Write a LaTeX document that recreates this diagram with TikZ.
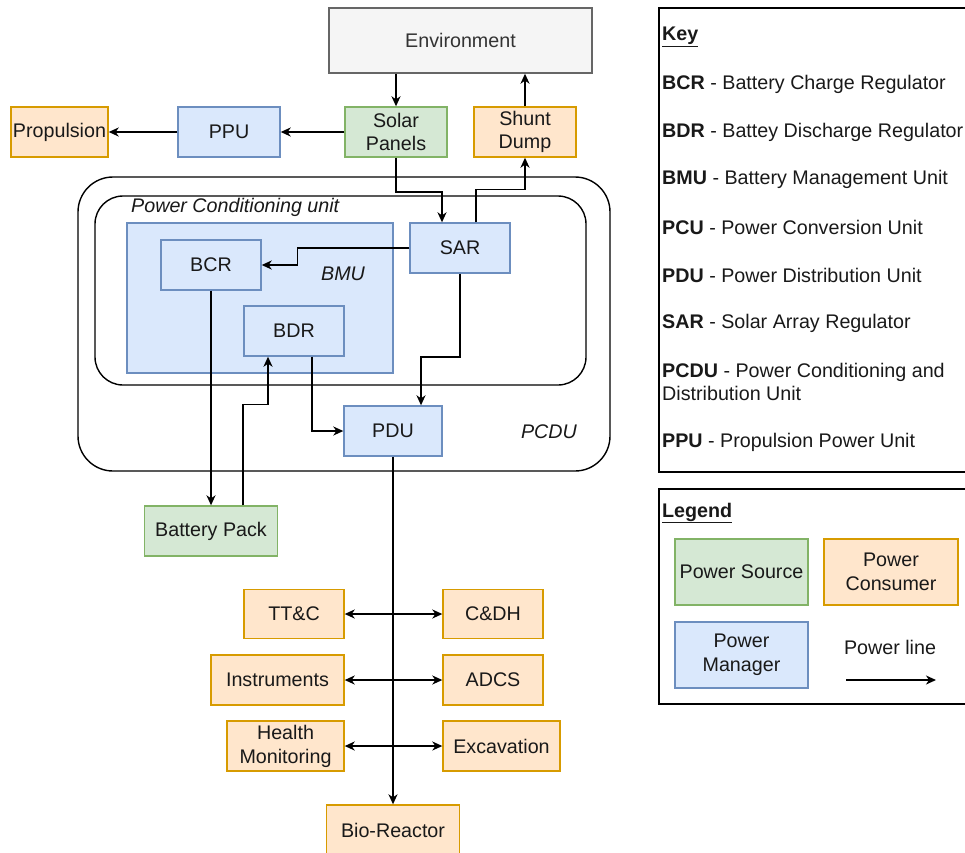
\documentclass[tikz,border=0pt]{standalone}
\usepackage{fontspec}
\setmainfont{Liberation Sans}
\usetikzlibrary{arrows.meta,calc}
\definecolor{srcfill}{HTML}{D5E8D4}\definecolor{srcdraw}{HTML}{82B366}
\definecolor{confill}{HTML}{FFE6CC}\definecolor{condraw}{HTML}{D79B00}
\definecolor{manfill}{HTML}{DAE8FC}\definecolor{mandraw}{HTML}{6C8EBF}
\definecolor{envfill}{HTML}{F5F5F5}\definecolor{envdraw}{HTML}{666666}
\definecolor{envtext}{HTML}{333333}
\begin{document}
\begin{tikzpicture}[x=1pt,y=-1pt,
  every node/.style={font=\fontsize{19.7}{23.8}\selectfont, text=black!90, inner sep=0pt},
  box/.style={draw, line width=1.4pt, rectangle, align=center},
  src/.style={box, fill=srcfill, draw=srcdraw},
  con/.style={box, fill=confill, draw=condraw},
  man/.style={box, fill=manfill, draw=mandraw},
  arr/.style={line width=1.6pt, -{Stealth[length=10pt,width=9pt,inset=3pt]}},
  darr/.style={line width=1.6pt, {Stealth[length=10pt,width=9pt,inset=3pt]}-{Stealth[length=10pt,width=9pt,inset=3pt]}},
  keytext/.style={anchor=west, align=left},
  lbl/.style={font=\fontsize{19.7}{23.8}\selectfont\itshape}
]
\useasboundingbox (0,0) rectangle (965,852);

% containers
\node[draw, line width=1.4pt, rounded corners=35pt, minimum width=532pt, minimum height=294pt] (pcdu) at (344,324) {};
\node[draw, line width=1.4pt, rounded corners=28pt, minimum width=491pt, minimum height=189pt] (pcu) at (340.5,290.5) {};
\node[man, minimum width=266pt, minimum height=150pt] (bmu) at (260,298) {};
\node[lbl, anchor=west] (pcutext) at (131,207) {Power Conditioning unit};
\node[lbl] (bmutext) at (343,274) {BMU};
\node[lbl] (pcdutext) at (549,432) {PCDU};

% top row
\node[box, fill=envfill, draw=envdraw, text=envtext, minimum width=263pt, minimum height=65pt] (env) at (460.5,40.5) {Environment};
\node[src, minimum width=102pt, minimum height=50pt] (solar) at (396,132) {Solar\\Panels};
\node[con, minimum width=102pt, minimum height=50pt] (shunt) at (525,132) {Shunt\\Dump};
\node[man, minimum width=102pt, minimum height=50pt] (ppu) at (229,132) {PPU};
\node[con, minimum width=97pt, minimum height=50pt] (prop) at (59.5,132) {Propulsion};

% inside
\node[man, minimum width=100pt, minimum height=50pt] (bcr) at (211,265) {BCR};
\node[man, minimum width=100pt, minimum height=50pt] (bdr) at (294,331) {BDR};
\node[man, minimum width=100pt, minimum height=50pt] (sar) at (460,248) {SAR};
\node[man, minimum width=98pt, minimum height=50pt] (pdu) at (393,431) {PDU};

% lower
\node[src, minimum width=133pt, minimum height=50pt] (bat) at (211,531) {Battery Pack};
\node[con, minimum width=100pt, minimum height=49pt] (ttc) at (294,614) {TT\&C};
\node[con, minimum width=100pt, minimum height=49pt] (cdh) at (493,614) {C\&DH};
\node[con, minimum width=133pt, minimum height=50pt] (inst) at (277.5,680) {Instruments};
\node[con, minimum width=100pt, minimum height=50pt] (adcs) at (493,680) {ADCS};
\node[con, minimum width=117pt, minimum height=50pt] (health) at (285.5,746) {Health\\Monitoring};
\node[con, minimum width=117pt, minimum height=50pt] (exc) at (501.5,746) {Excavation};
\node[con, minimum width=133pt, minimum height=50pt] (bio) at (393,830) {Bio-Reactor};

% connectors
\draw[arr] (solar.north |- env.south) -- (solar.north);
\draw[arr] (shunt.north) -- (shunt.north |- env.south);
\draw[arr] (solar.west) -- (ppu.east);
\draw[arr] (ppu.west) -- (prop.east);
\draw[arr] (solar.south) -- ++(0,34) -| ([xshift=-18pt]sar.north);
\draw[arr] ([xshift=16pt]sar.north) -- ++(0,-33) -| (shunt.south);
\draw[arr] (sar.west) -- ++(-112,0) |- (bcr.east);
\draw[arr] (sar.south) -- ++(0,83) -| ([xshift=28pt]pdu.north);
\draw[arr] ([xshift=18pt]bdr.south) |- (pdu.west);
\draw[arr] (bcr.south) -- (bcr.south |- bat.north);
\draw[arr] ([xshift=32pt]bat.north) -- ++(0,-101) -| ([xshift=-26pt]bdr.south);
\draw[arr] (pdu.south) -- (bio.north);
\draw[darr] (ttc.east) -- (cdh.west);
\draw[darr] (inst.east) -- (adcs.west);
\draw[darr] (health.east) -- (exc.west);

% key
\node[draw, line width=1.4pt, minimum width=316pt, minimum height=464pt] (key) at (817,240) {};
\node[keytext] (k0) at (662,37) {\underline{\textbf{Key}}};
\node[keytext] (k1) at (662,84) {\textbf{BCR} - Battery Charge Regulator};
\node[keytext] (k2) at (662,132) {\textbf{BDR} - Battey Discharge Regulator};
\node[keytext] (k3) at (662,179) {\textbf{BMU} - Battery Management Unit};
\node[keytext] (k4) at (662,227) {\textbf{PCU} - Power Conversion Unit};
\node[keytext] (k5) at (662,275) {\textbf{PDU} - Power Distribution Unit};
\node[keytext] (k6) at (662,323) {\textbf{SAR} - Solar Array Regulator};
\node[keytext] (k7) at (662,382) {\textbf{PCDU} - Power Conditioning and\\Distribution Unit};
\node[keytext] (k8) at (662,442) {\textbf{PPU} - Propulsion Power Unit};

% legend
\node[draw, line width=1.4pt, minimum width=316pt, minimum height=215pt] (legend) at (817,596.5) {};
\node[keytext] (l0) at (662,513) {\underline{\textbf{Legend}}};
\node[src, minimum width=133pt, minimum height=66pt] (lsrc) at (741.5,572) {Power Source};
\node[con, minimum width=134pt, minimum height=66pt] (lcon) at (891,572) {Power\\Consumer};
\node[man, minimum width=133pt, minimum height=66pt] (lman) at (741.5,655) {Power\\Manager};
\node (lline) at (890,647) {Power line};
\coordinate (la) at (846,680);
\coordinate (lb) at (936,680);
\draw[arr] (la) -- (lb);
\end{tikzpicture}
\end{document}
